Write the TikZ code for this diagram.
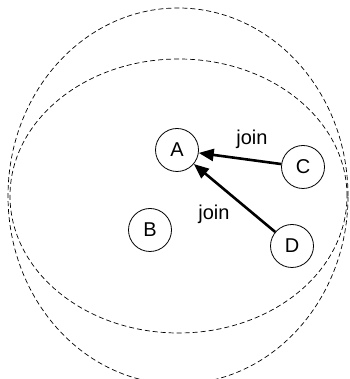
\documentclass[tikz,border=0pt]{standalone}
\usepackage{fontspec}
\setmainfont{Liberation Sans}
\usetikzlibrary{arrows.meta}
\begin{document}
\begin{tikzpicture}[x=1pt,y=1pt,
  peer/.style={circle,draw,line width=0.8pt,minimum size=43pt,inner sep=0pt,font=\fontsize{20}{24}\selectfont},
  region/.style={dashed,dash pattern=on 5pt off 3pt,line width=0.7pt},
  joinarrow/.style={line width=2.6pt,-{Triangle[length=15pt,width=12pt]}},
  lbl/.style={font=\fontsize{20}{24}\selectfont,anchor=base,inner sep=0pt}]
\useasboundingbox (0,0) rectangle (349,379);
\begin{scope}
\clip (0,0) rectangle (349,379);
\draw[region] (178,183) ellipse [x radius=170, y radius=188];
\draw[region] (178.5,183) ellipse [x radius=168.5, y radius=137];
\end{scope}
\node[peer] (A) at (177,229) {A};
\node[peer] (B) at (150,149) {B};
\node[peer] (C) at (303,212) {C};
\node[peer] (D) at (292,133) {D};
\draw[joinarrow] (C) -- (A);
\draw[joinarrow] (D) -- (A);
\node[lbl] (j1) at (252,234) {join};
\node[lbl] (j2) at (214,159) {join};
\end{tikzpicture}
\end{document}
